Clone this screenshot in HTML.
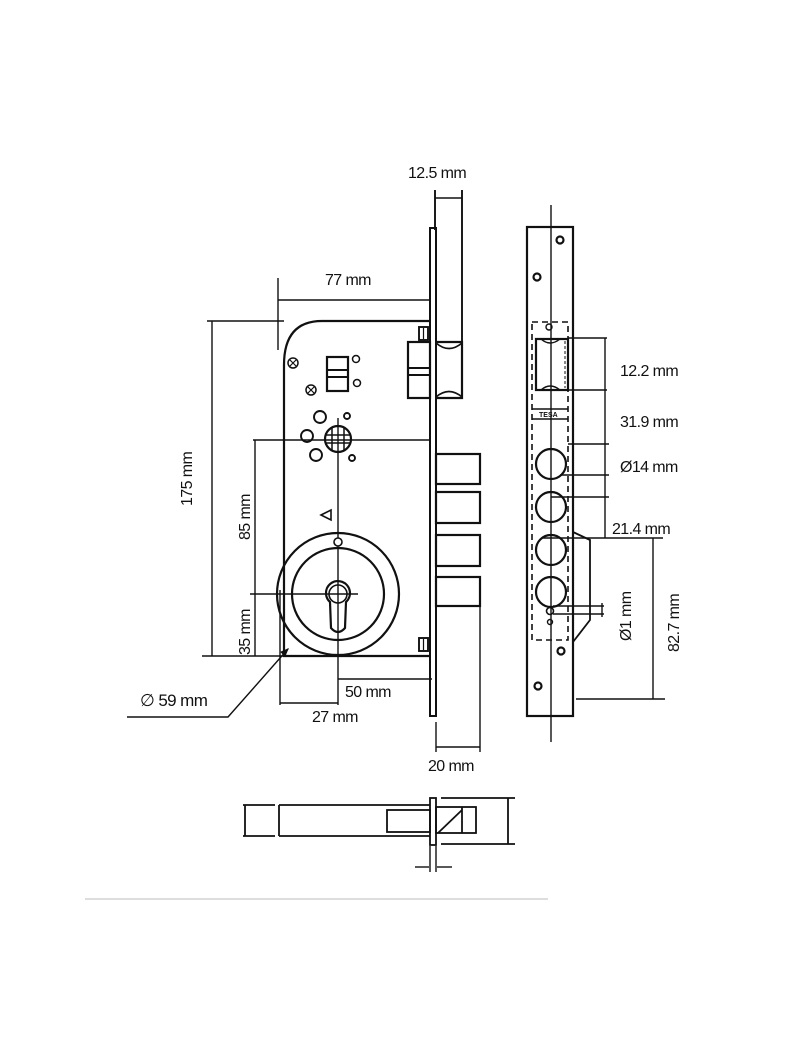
<!DOCTYPE html>
<html><head><meta charset="utf-8"><style>
html,body{margin:0;padding:0;background:#fff;}
svg{display:block}
text{font-family:"Liberation Sans Narrow","Liberation Sans",sans-serif;font-size:16px;fill:#111;letter-spacing:-0.6px}
</style></head><body>
<svg width="800" height="1040" viewBox="0 0 800 1040" xmlns="http://www.w3.org/2000/svg">
<g fill="none" stroke="#111" stroke-width="1.9">
<!-- 12.5 dim -->
<line x1="435" y1="190" x2="435" y2="230"/><line x1="462" y1="190" x2="462" y2="342"/>
<line x1="435" y1="198" x2="462" y2="198" stroke-width="1.4"/>
<!-- faceplate -->
<rect x="430" y="228" width="6" height="488" stroke-width="2"/>
<!-- latch -->
<path d="M436 342 L462 342 L462 398 L436 398" stroke-width="2.2"/>
<path d="M436 343 Q449 354 462 343 M436 397 Q449 386 462 397" stroke-width="1.6"/>
<rect x="408" y="342" width="22" height="56" stroke-width="2.2"/>
<line x1="408" y1="368" x2="430" y2="368"/><line x1="408" y1="375" x2="430" y2="375"/>
<rect x="419" y="327" width="9" height="13"/><line x1="423.5" y1="328" x2="423.5" y2="339" stroke-width="1.2"/>
<!-- 77 dim -->
<line x1="278" y1="278" x2="278" y2="350" stroke-width="1.4"/>
<line x1="278" y1="300" x2="430" y2="300" stroke-width="1.4"/>
<!-- case -->
<path d="M430 321 L322 321 Q284 321 284 365 L284 656 L430 656" stroke-width="2.2"/>
<line x1="207" y1="321" x2="284" y2="321" stroke-width="1.4"/>
<line x1="212" y1="321" x2="212" y2="656" stroke-width="1.4"/>
<line x1="202" y1="656" x2="290" y2="656" stroke-width="1.4"/>
<!-- square box -->
<rect x="327" y="357" width="21" height="34" stroke-width="2.2"/>
<line x1="327" y1="370" x2="348" y2="370"/><line x1="327" y1="377" x2="348" y2="377"/>
<circle cx="356" cy="359" r="3.5" stroke-width="1.5"/><circle cx="357" cy="383" r="3.5" stroke-width="1.5"/>
<circle cx="293" cy="363" r="5" stroke-width="1.5"/><path d="M290 360 L296 366 M296 360 L290 366" stroke-width="1.2"/>
<circle cx="311" cy="390" r="5" stroke-width="1.5"/><path d="M308 387 L314 393 M314 387 L308 393" stroke-width="1.2"/>
<!-- spindle -->
<circle cx="338" cy="439" r="13" stroke-width="2.2"/>
<path d="M332 427 L332 451 M344 427 L344 451 M326 435 L350 435 M326 443 L350 443" stroke-width="1.5"/>
<circle cx="320" cy="417" r="6"/><circle cx="307" cy="436" r="6"/><circle cx="316" cy="455" r="6"/>
<circle cx="347" cy="416" r="3"/><circle cx="352" cy="458" r="3"/>
<line x1="253" y1="440" x2="430" y2="440" stroke-width="1.4"/>
<line x1="255" y1="440" x2="255" y2="656" stroke-width="1.4"/>
<line x1="338" y1="418" x2="338" y2="705" stroke-width="1.4"/>
<!-- triangle -->
<path d="M321 515 L331 510 L331 520 Z" stroke-width="1.6"/>
<!-- cylinder -->
<circle cx="338" cy="594" r="61" stroke-width="2.2"/>
<circle cx="338" cy="594" r="46" stroke-width="2.2"/>
<circle cx="338" cy="542" r="4" stroke-width="1.6" fill="#fff"/>
<path d="M326 594 A12 12 0 1 1 346 602 L345 628 Q338 636 331 628 L330 602 A12 12 0 0 1 326 594 Z" stroke-width="2.2"/>
<circle cx="338" cy="594" r="9" stroke-width="1.6"/>
<line x1="250" y1="594" x2="358" y2="594" stroke-width="1.4"/>
<!-- bolts -->
<rect x="436" y="454" width="44" height="30" stroke-width="2.2"/>
<rect x="436" y="492" width="44" height="31" stroke-width="2.2"/>
<rect x="436" y="535" width="44" height="31" stroke-width="2.2"/>
<rect x="436" y="577" width="44" height="29" stroke-width="2.2"/>
<rect x="419" y="638" width="9" height="13"/><line x1="423.5" y1="639" x2="423.5" y2="650" stroke-width="1.2"/>
<!-- 50 / 27 -->
<line x1="338" y1="679" x2="432" y2="679" stroke-width="1.4"/>
<line x1="280" y1="590" x2="280" y2="705" stroke-width="1.4"/>
<line x1="280" y1="703" x2="338" y2="703" stroke-width="1.4"/>
<!-- 59 leader -->
<path d="M127 717 L228 717 L288 649" stroke-width="1.4"/>
<path d="M288 649 L281 652 L285 656 Z" fill="#111" stroke-width="1"/>
<!-- 20 -->
<line x1="436" y1="722" x2="436" y2="752" stroke-width="1.4"/>
<line x1="480" y1="606" x2="480" y2="752" stroke-width="1.4"/>
<line x1="436" y1="747" x2="480" y2="747" stroke-width="1.4"/>

<!-- strike plate -->
<line x1="551" y1="205" x2="551" y2="742" stroke-width="1.4"/>
<rect x="527" y="227" width="46" height="489" stroke-width="2.2"/>
<circle cx="560" cy="240" r="3.5" stroke-width="2.2"/><circle cx="537" cy="277" r="3.5" stroke-width="2.2"/>
<circle cx="561" cy="651" r="3.5" stroke-width="2.2"/><circle cx="538" cy="686" r="3.5" stroke-width="2.2"/>
<rect x="532" y="322" width="36" height="318" stroke-dasharray="6,4" stroke-width="1.6"/>
<circle cx="549" cy="327" r="3" stroke-width="1.4"/>
<rect x="536" y="339" width="32" height="51" stroke-width="2.2"/>
<path d="M541 339 Q550 347 560 339 M541 390 Q550 382 560 390" stroke-width="1.4"/>
<line x1="565" y1="341" x2="565" y2="388" stroke-width="1" stroke-dasharray="3,2"/>
<line x1="532" y1="409" x2="568" y2="409" stroke-width="1.4"/>
<line x1="532" y1="419" x2="568" y2="419" stroke-width="1.4"/>
<circle cx="551" cy="464" r="15" stroke-width="2.2"/><circle cx="551" cy="507" r="15" stroke-width="2.2"/>
<circle cx="551" cy="550" r="15" stroke-width="2.2"/><circle cx="551" cy="592" r="15" stroke-width="2.2"/>
<circle cx="550" cy="611" r="3.5" stroke-width="1.6"/><circle cx="550" cy="622" r="2.5" stroke-width="1.4"/>
<path d="M573 532 L590 540 L590 620 L573 642" stroke-width="1.8"/>
<g stroke-width="1.4">
<line x1="568" y1="338" x2="607" y2="338"/><line x1="568" y1="390" x2="607" y2="390"/>
<line x1="568" y1="444" x2="609" y2="444"/><line x1="560" y1="475" x2="609" y2="475"/>
<line x1="551" y1="497" x2="609" y2="497"/><line x1="541" y1="538" x2="663" y2="538"/>
<line x1="605" y1="338" x2="605" y2="538"/>
<line x1="653" y1="538" x2="653" y2="699"/><line x1="576" y1="699" x2="665" y2="699"/>
<line x1="553" y1="606" x2="604" y2="606"/><line x1="553" y1="614" x2="604" y2="614"/>
<line x1="602" y1="603" x2="602" y2="617"/>
</g>

<!-- bottom view -->
<g stroke-width="1.8">
<line x1="245" y1="805" x2="245" y2="836"/>
<line x1="243" y1="805" x2="275" y2="805"/><line x1="243" y1="836" x2="275" y2="836"/>
<line x1="279" y1="805" x2="279" y2="836"/>
<line x1="279" y1="805" x2="430" y2="805"/><line x1="279" y1="836" x2="430" y2="836"/>
<rect x="387" y="810" width="43" height="22"/>
<rect x="430" y="798" width="6" height="47"/>
<rect x="436" y="807" width="40" height="26"/>
<line x1="462" y1="807" x2="462" y2="833"/><line x1="438" y1="833" x2="462" y2="810"/>
<line x1="441" y1="798" x2="515" y2="798"/><line x1="441" y1="844" x2="515" y2="844"/>
<line x1="508" y1="798" x2="508" y2="844"/>
<line x1="430" y1="846" x2="430" y2="872" stroke-width="1.4"/><line x1="436" y1="846" x2="436" y2="872" stroke-width="1.4"/>
<line x1="415" y1="867" x2="429" y2="867" stroke-width="1.4"/><line x1="437" y1="867" x2="452" y2="867" stroke-width="1.4"/>
</g>
<line x1="85" y1="899" x2="548" y2="899" stroke="#bbb" stroke-width="1"/>
</g>

<text x="408" y="178">12.5 mm</text>
<text x="325" y="285">77 mm</text>
<text x="345" y="697">50 mm</text>
<text x="312" y="722">27 mm</text>
<text x="428" y="771">20 mm</text>
<text x="140" y="706" style="font-size:17px">∅ 59 mm</text>
<text transform="translate(192,506) rotate(-90)">175 mm</text>
<text transform="translate(250,540) rotate(-90)">85 mm</text>
<text transform="translate(250,655) rotate(-90)">35 mm</text>
<text x="620" y="376">12.2 mm</text>
<text x="620" y="427">31.9 mm</text>
<text x="620" y="472">Ø14 mm</text>
<text x="612" y="534">21.4 mm</text>
<text transform="translate(631,641) rotate(-90)">Ø1 mm</text>
<text transform="translate(679,652) rotate(-90)">82.7 mm</text>
<text x="539" y="417" style="font-size:7px;font-weight:bold;letter-spacing:0">TESA</text>
</svg>
</body></html>
